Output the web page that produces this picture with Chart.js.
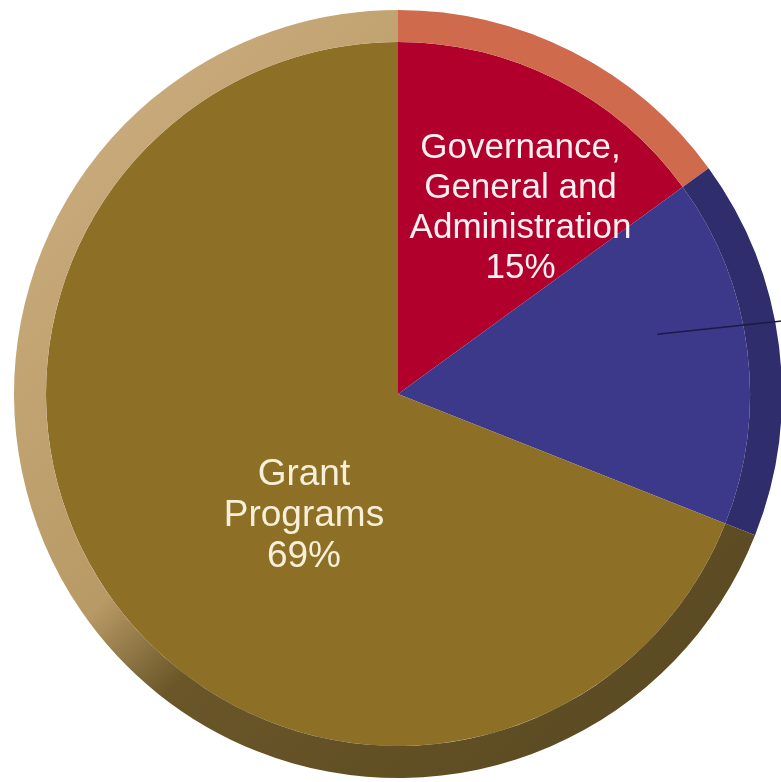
<!DOCTYPE html>
<html lang="en">
<head>
    <meta charset="UTF-8">
    <script src="https://cdn.jsdelivr.net/npm/chart.js"></script>
    <style>
        body { margin: 0; background: #fff; }
        #wrap { width: 781px; height: 782px; overflow: hidden; }
    </style>
</head>
<body>
  <div id="wrap">
    <canvas id="myChart" width="796" height="782"></canvas>
  </div>
<script>
    // slices, clockwise from 12 o'clock
    const categories = ['Governance, General and Administration', '', 'Grant Programs']
    const shares = [15, 16, 69]
    const labelLines = [
        ['Governance,', 'General and', 'Administration', '15%'],
        [],
        ['Grant', 'Programs', '69%']
    ]

    const faceColors = ['#b0002b', '#3c398a', '#8d7026']
    // where each label sits: fraction of the slice angle, fraction of radius
    const labelAnchor = [[0.61, 0.64], null, [0.43, 0.43]]
    const labelColor = ['#fdf0f2', null, '#f7efd8']

    function rimColor(context) {
        const i = context.dataIndex
        if (i === 0) return '#cf6a4d'
        if (i === 1) return '#2f2d6c'
        const ctx = context.chart.ctx
        const g = ctx.createLinearGradient(100, 100, 700, 700)
        g.addColorStop(0, '#c9ab7c')
        g.addColorStop(0.42, '#b89a66')
        g.addColorStop(0.55, '#6a5628')
        g.addColorStop(1, '#5a4a22')
        return g
    }

    const labelPlugin = {
        id: 'sliceLabels',
        afterDatasetsDraw(chart) {
            const ctx = chart.ctx
            const arcs = chart.getDatasetMeta(1).data
            ctx.save()
            // leader line out of the blue slice toward its (cropped) label
            const b = arcs[1]
            const a = b.startAngle + 0.4 * (b.endAngle - b.startAngle)
            const sx = b.x + 0.756 * b.outerRadius * Math.cos(a)
            const sy = b.y + 0.756 * b.outerRadius * Math.sin(a)
            ctx.strokeStyle = '#1c1b45'
            ctx.lineWidth = 1.6
            ctx.beginPath()
            ctx.moveTo(sx, sy)
            ctx.lineTo(sx + 150, sy - 16)
            ctx.stroke()

            ctx.textAlign = 'center'
            ctx.textBaseline = 'alphabetic'
            labelLines.forEach((lines, i) => {
                if (!lines.length) return
                const arc = arcs[i]
                const ang = arc.startAngle + labelAnchor[i][0] * (arc.endAngle - arc.startAngle)
                const r = labelAnchor[i][1] * arc.outerRadius
                const cx = arc.x + r * Math.cos(ang)
                const cy = arc.y + r * Math.sin(ang)
                const size = i === 0 ? 35 : 37
                const lh = i === 0 ? 40 : 41
                ctx.font = size + 'px "Liberation Sans", Arial, sans-serif'
                ctx.fillStyle = labelColor[i]
                const top = cy - (lines.length - 1) * lh / 2 + size * 0.36
                lines.forEach((t, k) => ctx.fillText(t, cx, top + k * lh))
            })
            ctx.restore()
        }
    }

    const ctx = document.getElementById('myChart')
    new Chart(ctx, {
        type: 'pie',
        data: {
            labels: categories,
            datasets: [{
                // rim of the disc
                data: shares,
                backgroundColor: rimColor,
                borderWidth: 0,
                weight: 32
            }, {
                data: shares,
                backgroundColor: faceColors,
                borderWidth: 0,
                weight: 352
            }]
        },
        options: {
            responsive: false,
            animation: false,
            layout: { padding: { left: 14, right: 14, top: 10, bottom: 4 } },
            plugins: {
                legend: { display: false },
                tooltip: { enabled: false }
            }
        },
        plugins: [labelPlugin]
    })
</script>
</body>
</html>
